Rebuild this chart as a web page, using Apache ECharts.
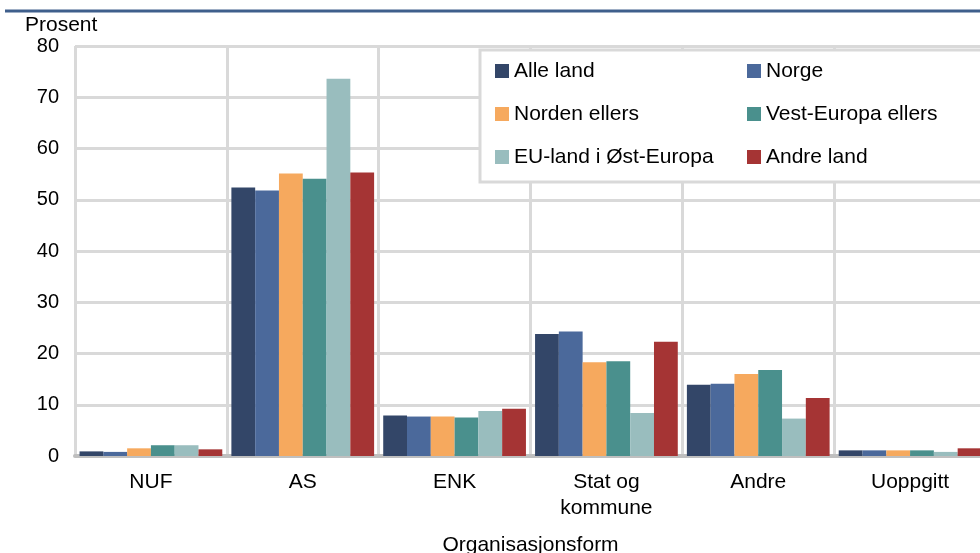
<!DOCTYPE html>
<html>
<head>
<meta charset="utf-8">
<script src="https://cdn.jsdelivr.net/npm/echarts@6/dist/echarts.min.js"></script>
<style>html,body{margin:0;padding:0;background:#fff;overflow:hidden;}#c{width:980px;height:553px;}</style>
</head>
<body>
<div id="c"></div>
<script>
const categories = ['NUF', 'AS', 'ENK', 'Stat og\nkommune', 'Andre', 'Uoppgitt'];
const yTicks = [0, 10, 20, 30, 40, 50, 60, 70, 80];
const seriesNames = ['Alle land', 'Norge', 'Norden ellers', 'Vest-Europa ellers', 'EU-land i Øst-Europa', 'Andre land'];
const alleLand = [0.9, 52.4, 7.9, 23.8, 13.9, 1.1];
const norge = [0.8, 51.8, 7.7, 24.3, 14.1, 1.1];
const nordenEllers = [1.5, 55.1, 7.7, 18.3, 16.0, 1.1];
const vestEuropaEllers = [2.1, 54.1, 7.5, 18.5, 16.8, 1.1];
const euOstEuropa = [2.1, 73.6, 8.8, 8.4, 7.3, 0.8];
const andreLand = [1.3, 55.3, 9.2, 22.3, 11.3, 1.5];
const colors = ['#334668', '#4b699b', '#f6a95e', '#4a908d', '#99bdbe', '#a53434'];

const values = [alleLand, norge, nordenEllers, vestEuropaEllers, euOstEuropa, andreLand];
const FONT = 'Liberation Sans, Arial, sans-serif';

const chart = echarts.init(document.getElementById('c'), null, {renderer: 'canvas', width: 980, height: 553});
chart.setOption({
  animation: false,
  color: colors,
  textStyle: {fontFamily: FONT, color: '#000'},
  title: {
    text: 'Prosent', left: 25, top: 15, padding: 0,
    textStyle: {fontFamily: FONT, fontSize: 21, fontWeight: 'normal', color: '#000'}
  },
  grid: {left: 75, top: 46, width: 911, height: 410, containLabel: false, outerBoundsMode: 'none'},
  legend: {
    data: seriesNames,
    left: 495, top: 57, width: 500, padding: 0,
    orient: 'horizontal',
    itemWidth: 14, itemHeight: 14, itemGap: 15,
    icon: 'rect',
    textStyle: {fontFamily: FONT, fontSize: 21, color: '#000', width: 218, lineHeight: 28, overflow: 'truncate'},
    z: 5
  },
  graphic: [
    {type: 'line', shape: {x1: 5, y1: 11, x2: 980, y2: 11}, style: {stroke: '#3f5f8c', lineWidth: 3}, z: 10},
    {type: 'rect', shape: {x: 480, y: 50, width: 540, height: 132}, style: {fill: '#fff', stroke: '#d9d9d9', lineWidth: 3}, z: 3}
  ],
  xAxis: {
    type: 'category',
    data: categories,
    name: 'Organisasjonsform',
    nameLocation: 'middle',
    nameGap: 79,
    nameTextStyle: {fontFamily: FONT, fontSize: 21, color: '#000'},
    axisTick: {show: false},
    axisLine: {lineStyle: {color: '#bfbfbf', width: 4}},
    axisLabel: {fontFamily: FONT, fontSize: 21, color: '#000', lineHeight: 26, margin: 13, interval: 0},
    splitLine: {show: true, lineStyle: {color: '#d9d9d9', width: 3}}
  },
  yAxis: {
    type: 'value',
    min: yTicks[0], max: yTicks[yTicks.length - 1], interval: 10,
    axisLine: {show: false},
    axisTick: {show: false},
    axisLabel: {fontFamily: FONT, fontSize: 20, color: '#000', margin: 16},
    splitLine: {lineStyle: {color: '#d9d9d9', width: 3}}
  },
  series: seriesNames.map((n, i) => ({
    name: n,
    type: 'bar',
    data: values[i],
    barGap: '0%',
    barCategoryGap: '6%',
    itemStyle: {color: colors[i]}
  }))
});
</script>
</body>
</html>
